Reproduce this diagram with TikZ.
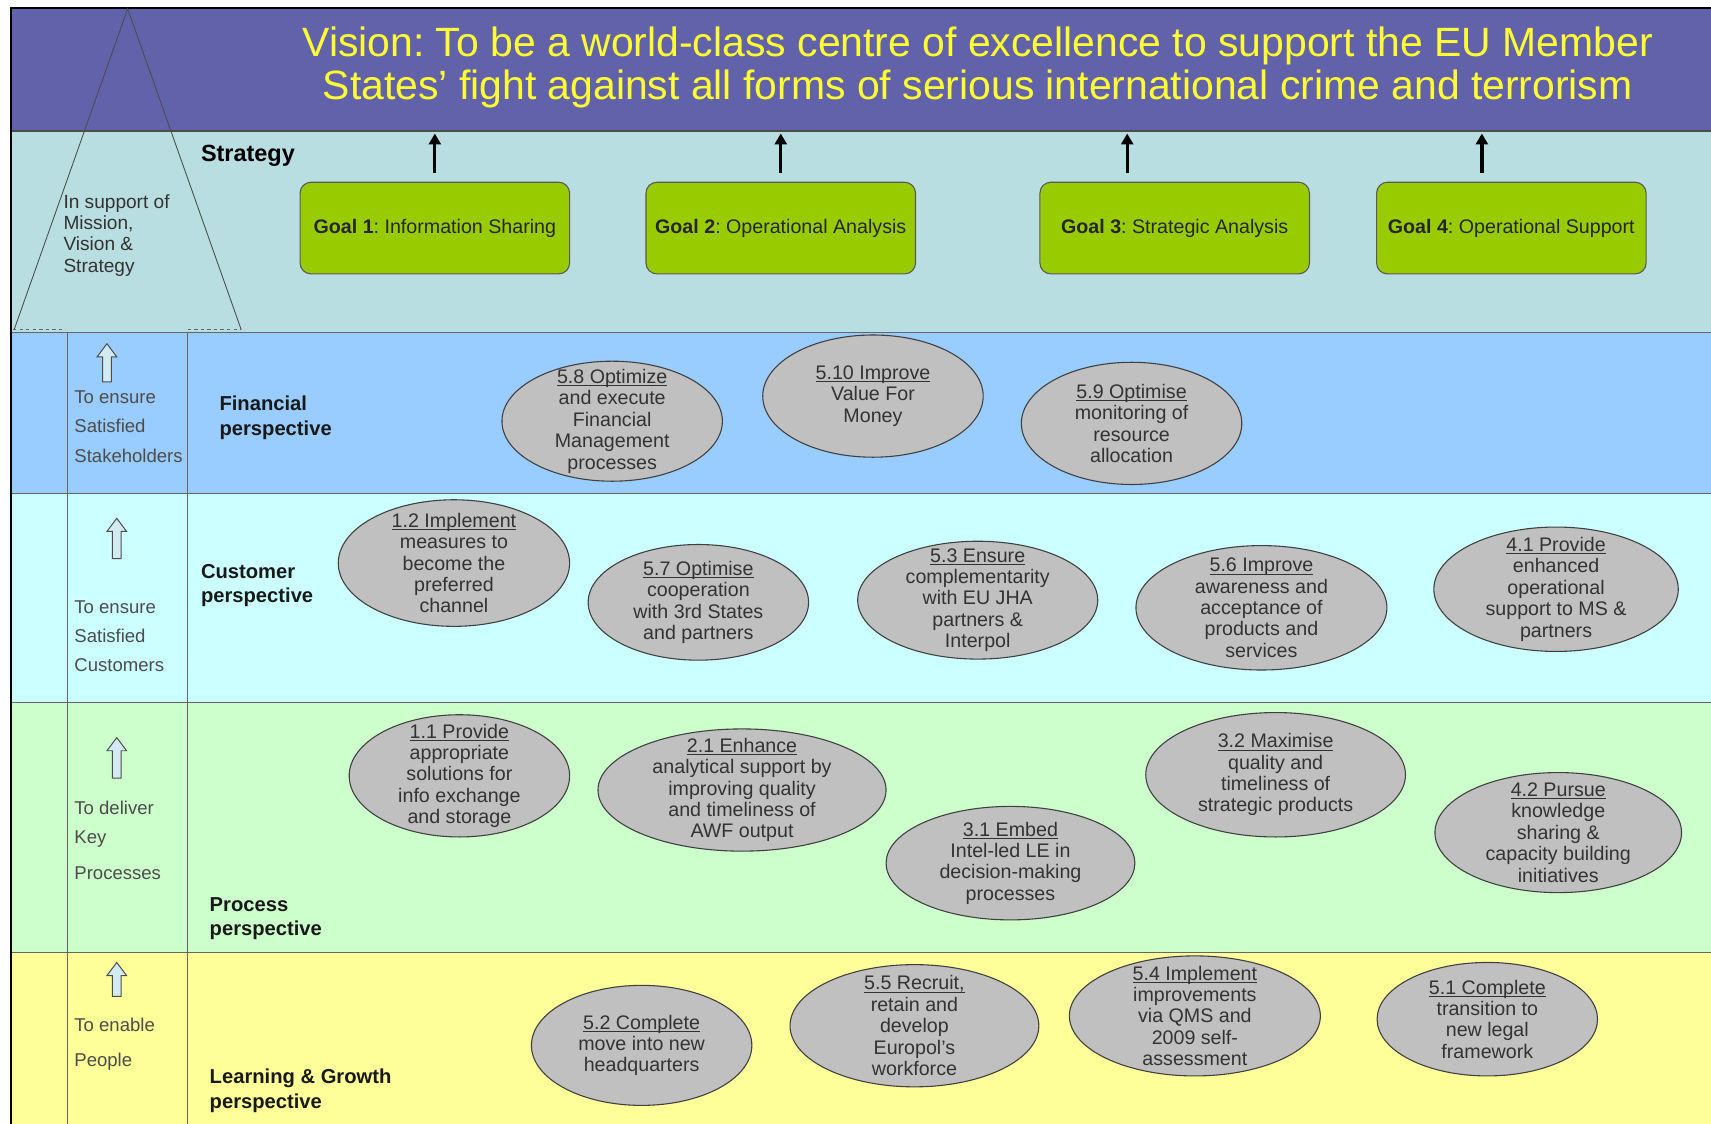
\documentclass[tikz,border=0pt]{standalone}
\usepackage{fontspec}
\setmainfont{Liberation Sans}
\usetikzlibrary{arrows.meta,shapes.geometric}
\definecolor{visionc}{HTML}{6262AA}
\definecolor{stratc}{HTML}{B9DEE2}
\definecolor{finc}{HTML}{99CCFF}
\definecolor{custc}{HTML}{CCFFFF}
\definecolor{procc}{HTML}{CCFFCC}
\definecolor{learnc}{HTML}{FFFF99}
\definecolor{goalc}{HTML}{99CC00}
\definecolor{ellc}{HTML}{C0C0C0}
\definecolor{vtext}{HTML}{FFFF33}
\definecolor{txtc}{HTML}{333333}
\definecolor{arrc}{HTML}{D4EAF2}
\tikzset{
 obj/.style={ellipse, draw=black!75, fill=ellc, line width=1pt, inner sep=0pt},
 objtext/.style={align=center, text=txtc, font=\fontsize{18}{19.6}\selectfont, inner sep=0pt},
 goalbox/.style={draw=black!65, fill=goalc, rounded corners=10pt, minimum width=247pt, minimum height=84pt, line width=1pt, font=\fontsize{18}{20}\selectfont, inner sep=0pt, text=black!85},
 persp/.style={font=\bfseries\fontsize{18.5}{22.5}\selectfont, align=left, anchor=west, inner sep=0pt, text=black!90},
 sidetext/.style={font=\fontsize{17}{27}\selectfont, align=left, anchor=west, inner sep=0pt, text=black!70},
 goalarrow/.style={-{Triangle[width=11pt,length=10pt]}, line width=3pt, shorten >=2pt},
 bandline/.style={draw=black!60, line width=1pt},
}
\newcommand\uln[1]{\setbox0\hbox{#1}\rlap{#1}\rule[-2.5pt]{\wd0}{0.9pt}}
\newcommand\objnode[6]{%
 \node[obj, minimum width=#4pt, minimum height=#5pt] (#1) at (#2,#3) {};
 \node[objtext] (#1t) at (#1.center) {#6};}
\newcommand\hollowup[3]{%
 \draw[draw=black!70, fill=arrc, line width=0.9pt] (#1-4,#3) -- (#1-4,#2+12) -- (#1-9,#2+12) -- (#1,#2) -- (#1+9,#2+12) -- (#1+4,#2+12) -- (#1+4,#3) -- cycle;}
\begin{document}
\frenchspacing
\begin{tikzpicture}[x=1pt,y=-1pt]
\useasboundingbox (0,0) rectangle (1568,1030);
% bands
\node[fill=visionc, minimum width=1560pt, minimum height=113pt, anchor=north west, inner sep=0pt] (vis) at (10,7) {};
\fill[stratc] (10,120) rectangle (1570,305);
\fill[finc] (10,305) rectangle (1570,452);
\fill[custc] (10,452) rectangle (1570,644);
\fill[procc] (10,644) rectangle (1570,873);
\fill[learnc] (10,873) rectangle (1570,1032);
\foreach \yy in {305,452,644,873} \draw[bandline] (10,\yy) -- (1570,\yy);
\draw[draw=black!70, line width=1.2pt] (10,120) -- (1570,120);
\draw[bandline] (62,305) -- (62,1032);
\draw[bandline] (172,305) -- (172,1032);
\draw[black, line width=2pt] (10,1032) -- (10,7) -- (1570,7);
% triangle
\draw[black!70, line width=0.8pt] (13,302) -- (117,8) -- (221,302);
\draw[black!60, dashed, line width=0.8pt] (12,302) -- (60,302);
\draw[black!60, dashed, line width=0.8pt] (172,302) -- (221,302);
\node[font=\fontsize{17.5}{19.6}\selectfont, align=left, anchor=west, inner sep=0pt, text=txtc] (tri) at (58,215.5) {In support of\\Mission,\\Vision \&\\Strategy};
% vision
\node[font=\fontsize{37.5}{39}\selectfont, text=vtext, align=center, inner sep=0pt] (vtxt) at (896,62) {Vision: To be a world-class centre of excellence to support the EU Member\\States’ fight against all forms of serious international crime and terrorism};
% strategy
\node[font=\bfseries\fontsize{21.5}{24}\selectfont, anchor=west, inner sep=0pt] (strat) at (184,143) {Strategy};
\node[goalbox] (g1) at (398.5,209) {{\bfseries Goal 1}: Information Sharing};
\node[goalbox] (g2) at (715.5,209) {{\bfseries Goal 2}: Operational Analysis};
\node[goalbox] (g3) at (1076.5,209) {{\bfseries Goal 3}: Strategic Analysis};
\node[goalbox] (g4) at (1385,209) {{\bfseries Goal 4}: Operational Support};
\draw[goalarrow] ([yshift=8pt]g1.north) -- (g1.north |- vis.south);
\draw[goalarrow] ([yshift=8pt]g2.north) -- (g2.north |- vis.south);
\draw[goalarrow] ([xshift=-43.5pt,yshift=8pt]g3.north) -- ([xshift=-43.5pt]g3.north |- vis.south);
\draw[goalarrow] ([xshift=-27pt,yshift=8pt]g4.north) -- ([xshift=-27pt]g4.north |- vis.south);
% side column
\hollowup{98}{315}{350}
\hollowup{107}{475}{512}
\hollowup{107}{676}{713}
\hollowup{107}{882}{913}
\node[sidetext] (s1) at (68,391) {To ensure\\Satisfied\\Stakeholders};
\node[sidetext] (s2) at (68,583) {To ensure\\Satisfied\\Customers};
\node[sidetext] (s3) at (68,770) {To deliver\\Key\\[6pt]Processes};
\node[sidetext, font=\fontsize{17}{32}\selectfont] (s4) at (68,957) {To enable\\People};
\node[persp] (pf) at (201,383) {Financial\\perspective};
\node[persp] (pc) at (184,536.5) {Customer\\perspective};
\node[persp] (pp) at (192,842) {Process\\perspective};
\node[persp] (pl) at (192,999.5) {Learning \& Growth\\perspective};
% financial
\objnode{f58}{561}{386}{202}{110}{\uln{5.8 Optimize}\\and execute\\Financial\\Management\\processes}
\objnode{f510}{800}{363}{202}{112}{\uln{5.10 Improve}\\Value For\\Money}
\objnode{f59}{1037}{388}{202}{112}{\uln{5.9 Optimise}\\monitoring of\\resource\\allocation}
% customer
\objnode{c12}{416}{516}{212}{116}{\uln{1.2 Implement}\\measures to\\become the\\preferred\\channel}
\objnode{c57}{640}{552}{202}{106}{\uln{5.7 Optimise}\\cooperation\\with 3rd States\\and partners}
\objnode{c53}{896}{550}{220}{108}{\uln{5.3 Ensure}\\complementarity\\with EU JHA\\partners \&\\Interpol}
\objnode{c56}{1156}{557}{230}{114}{\uln{5.6 Improve}\\awareness and\\acceptance of\\products and\\services}
\objnode{c41}{1426}{540}{224}{114}{\uln{4.1 Provide}\\enhanced\\operational\\support to MS \&\\partners}
% process
\objnode{p11}{421}{711}{202}{112}{\uln{1.1 Provide}\\appropriate\\solutions for\\info exchange\\and storage}
\objnode{p21}{680}{724}{264}{112}{\uln{2.1 Enhance}\\analytical support by\\improving quality\\and timeliness of\\AWF output}
\objnode{p31}{926}{791}{228}{104}{\uln{3.1 Embed}\\Intel-led LE in\\decision-making\\processes}
\objnode{p32}{1169}{710}{238}{114}{\uln{3.2 Maximise}\\quality and\\timeliness of\\strategic products}
\objnode{p42}{1428}{763}{226}{110}{\uln{4.2 Pursue}\\knowledge\\sharing \&\\capacity building\\initiatives}
% learning
\objnode{l52}{588}{958}{202}{110}{\uln{5.2 Complete}\\move into new\\headquarters}
\objnode{l55}{838}{940}{228}{112}{\uln{5.5 Recruit,}\\retain and\\develop\\Europol’s\\workforce}
\objnode{l54}{1095}{931}{230}{110}{\uln{5.4 Implement}\\improvements\\via QMS and\\2009 self-\\assessment}
\objnode{l51}{1363}{934}{202}{104}{\uln{5.1 Complete}\\transition to\\new legal\\framework}
\end{tikzpicture}
\end{document}
